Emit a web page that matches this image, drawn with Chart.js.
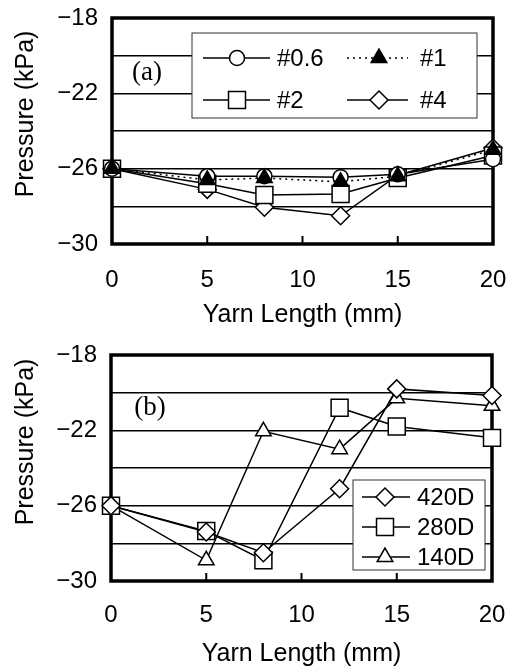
<!DOCTYPE html>
<html>
<head>
<meta charset="utf-8">
<script src="https://cdn.jsdelivr.net/npm/chart.js@4/dist/chart.umd.min.js"></script>
<style>
  body { margin: 0; background: #fff; }
  canvas { display: block; }
</style>
</head>
<body>
<canvas id="chartA" width="515" height="335"></canvas>
<canvas id="chartB" width="515" height="335"></canvas>
<script>
// shared axes
const yarnLength = [0, 5, 8, 12, 15, 20];
const xTickValues = [0, 5, 10, 15, 20];
const yLabelled = [-30, -26, -22, -18];

// (a) mesh size
const meshNames = ['#0.6', '#1', '#2', '#4'];
const mesh06 = [-26, -26.4, -26.4, -26.45, -26.3, -25.5];
const mesh1 = [-26, -26.6, -26.5, -26.7, -26.4, -25.0];
const mesh2 = [-26, -26.8, -27.4, -27.35, -26.5, -25.3];
const mesh4 = [-26, -27.1, -28.05, -28.5, -26.35, -24.9];

// (b) yarn denier
const denierNames = ['420D', '280D', '140D'];
const d420 = [-26, -27.4, -28.5, -25.1, -19.8, -20.15];
const d280 = [-26, -27.35, -28.9, -20.8, -21.8, -22.4];
const d140 = [-26, -28.9, -22.05, -23.0, -20.3, -20.7];

const SANS = '"Liberation Sans", Arial, sans-serif';
const SERIF = '"Liberation Serif", "Times New Roman", serif';

function drawMarker(ctx, style, x, y, r, fill) {
  ctx.beginPath();
  if (style === 'circle') {
    ctx.arc(x, y, r, 0, Math.PI * 2);
  } else if (style === 'rect') {
    const s = r * Math.SQRT1_2;
    ctx.rect(x - s, y - s, 2 * s, 2 * s);
  } else if (style === 'rectRot') {
    ctx.moveTo(x - r, y); ctx.lineTo(x, y - r); ctx.lineTo(x + r, y); ctx.lineTo(x, y + r);
    ctx.closePath();
  } else if (style === 'triangle') {
    let a = 0;
    ctx.moveTo(x + Math.sin(a) * r, y - Math.cos(a) * r);
    a += 2 * Math.PI / 3;
    ctx.lineTo(x + Math.sin(a) * r, y - Math.cos(a) * r);
    a += 2 * Math.PI / 3;
    ctx.lineTo(x + Math.sin(a) * r, y - Math.cos(a) * r);
    ctx.closePath();
  }
  ctx.fillStyle = fill;
  ctx.fill();
  ctx.stroke();
}

const panelExtras = {
  id: 'panelExtras',
  beforeDatasetsDraw(chart, args, o) {
    const { ctx, chartArea: a, scales: { x } } = chart;
    ctx.save();
    ctx.strokeStyle = '#000';
    ctx.lineWidth = 2;
    [5, 10, 15].forEach(v => {
      const px = x.getPixelForValue(v);
      ctx.beginPath();
      ctx.moveTo(px, a.bottom);
      ctx.lineTo(px, a.bottom - 8);
      ctx.stroke();
    });
    ctx.lineWidth = 3.5;
    ctx.strokeRect(a.left, a.top, a.right - a.left, a.bottom - a.top);

    ctx.fillStyle = '#000';
    ctx.font = '27px ' + SERIF;
    ctx.textAlign = 'center';
    ctx.textBaseline = 'middle';
    ctx.fillText(o.panel, o.panelX, o.panelY);

    ctx.translate(o.yTitleX, o.yTitleY);
    ctx.rotate(-Math.PI / 2);
    ctx.font = '25px ' + SANS;
    ctx.fillText('Pressure (kPa)', 0, 0);
    ctx.restore();
  },
  afterDatasetsDraw(chart, args, o) {
    const ctx = chart.ctx;
    const b = o.box;
    ctx.save();
    ctx.fillStyle = '#fff';
    ctx.fillRect(b.x, b.y, b.w, b.h);
    ctx.strokeStyle = '#333';
    ctx.lineWidth = 1;
    ctx.strokeRect(b.x, b.y, b.w, b.h);
    o.items.forEach(it => {
      ctx.strokeStyle = '#000';
      ctx.lineWidth = 1.5;
      ctx.setLineDash(it.dash || []);
      ctx.beginPath();
      ctx.moveTo(it.x1, it.y);
      ctx.lineTo(it.x2, it.y);
      ctx.stroke();
      ctx.setLineDash([]);
      drawMarker(ctx, it.style, it.mx, it.y, it.r, it.fill);
      ctx.fillStyle = '#000';
      ctx.font = '24px ' + SANS;
      ctx.textAlign = 'left';
      ctx.textBaseline = 'middle';
      ctx.fillText(it.text, it.tx, it.y + 1);
    });
    ctx.restore();
  }
};

function series(label, values, style, r, fill, dash, order) {
  return {
    label: label,
    data: values.map((v, i) => ({ x: yarnLength[i], y: v })),
    borderColor: '#000',
    borderWidth: 1.5,
    borderDash: dash || [],
    pointStyle: style,
    pointRadius: r,
    pointBorderWidth: 1.5,
    pointBorderColor: '#000',
    pointBackgroundColor: fill,
    tension: 0,
    clip: false,
    order: order || 1
  };
}

function makeChart(id, datasets, extras, pad, tickPad, titlePad) {
  return new Chart(document.getElementById(id), {
    type: 'line',
    data: { datasets: datasets },
    options: {
      responsive: false,
      animation: false,
      events: [],
      layout: { padding: pad },
      scales: {
        x: {
          type: 'linear',
          min: 0, max: 20,
          afterBuildTicks: s => { s.ticks = xTickValues.map(v => ({ value: v })); },
          afterFit: s => {
            s.height = 335 - pad.top - 226 - pad.bottom;
            s.paddingLeft = 0;
            s.paddingRight = 0;
          },
          grid: { display: false },
          border: { display: false },
          ticks: { color: '#000', padding: tickPad, font: { family: SANS, size: 24 }, maxRotation: 0 },
          title: { display: true, text: 'Yarn Length (mm)', color: '#000',
                   font: { family: SANS, size: 25 }, padding: { top: 0, bottom: titlePad } }
        },
        y: {
          min: -30, max: -18,
          ticks: {
            stepSize: 2, color: '#000', padding: 14,
            font: { family: SANS, size: 24 },
            callback: v => yLabelled.includes(v) ? '\u2212' + Math.abs(v) : ''
          },
          afterFit: s => { s.width = pad.yWidth; s.paddingTop = 0; s.paddingBottom = 0; },
          grid: { color: '#000', lineWidth: 1.6, drawTicks: false },
          border: { display: false }
        }
      },
      plugins: {
        legend: { display: false },
        tooltip: { enabled: false },
        panelExtras: extras
      }
    },
    plugins: [panelExtras]
  });
}

makeChart('chartA', [
  series(meshNames[0], mesh06, 'circle', 7.5, '#fff', null, 2),
  series(meshNames[1], mesh1, 'triangle', 9, '#000', [2, 4], 0),
  series(meshNames[2], mesh2, 'rect', 12, '#fff', null, 3),
  series(meshNames[3], mesh4, 'rectRot', 9, '#fff', null, 4)
], {
  panel: '(a)', panelX: 147, panelY: 73,
  yTitleX: 26, yTitleY: 114,
  box: { x: 192, y: 33, w: 285, h: 85 },
  items: [
    { text: meshNames[0], style: 'circle', r: 7.5, fill: '#fff', x1: 203, x2: 270, mx: 237, tx: 277, y: 58 },
    { text: meshNames[1], style: 'triangle', r: 9, fill: '#000', dash: [2, 4], x1: 347, x2: 408, mx: 379, tx: 420, y: 58 },
    { text: meshNames[2], style: 'rect', r: 12, fill: '#fff', x1: 203, x2: 270, mx: 237, tx: 277, y: 100 },
    { text: meshNames[3], style: 'rectRot', r: 9, fill: '#fff', x1: 347, x2: 408, mx: 379, tx: 420, y: 100 }
  ]
}, { top: 18, right: 22, bottom: 0, left: 0, yWidth: 112 }, 14, 5);

makeChart('chartB', [
  series(denierNames[0], d420, 'rectRot', 9, '#fff'),
  series(denierNames[1], d280, 'rect', 12, '#fff'),
  series(denierNames[2], d140, 'triangle', 9, '#fff')
], {
  panel: '(b)', panelX: 150, panelY: 73,
  yTitleX: 26, yTitleY: 107,
  box: { x: 353, y: 145, w: 132, h: 90 },
  items: [
    { text: denierNames[0], style: 'rectRot', r: 9, fill: '#fff', x1: 362, x2: 410, mx: 385, tx: 417, y: 162 },
    { text: denierNames[1], style: 'rect', r: 12, fill: '#fff', x1: 362, x2: 410, mx: 385, tx: 417, y: 192 },
    { text: denierNames[2], style: 'triangle', r: 9, fill: '#fff', x1: 362, x2: 410, mx: 385, tx: 417, y: 222 }
  ]
}, { top: 20, right: 23, bottom: 0, left: 0, yWidth: 111 }, 12, 1);
</script>
</body>
</html>
